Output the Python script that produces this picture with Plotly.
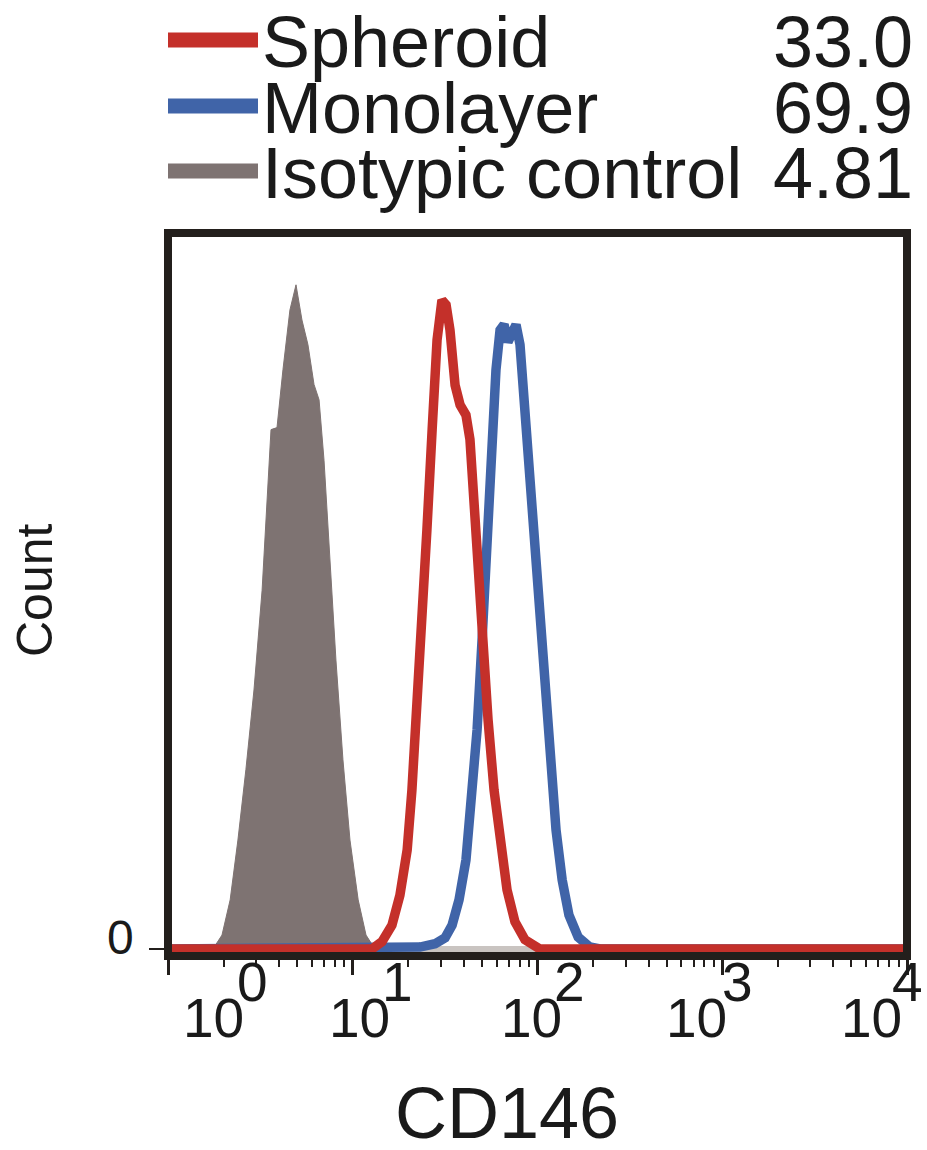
import plotly.graph_objects as go

# ---------------- data ----------------
# fluorescence intensity (CD146, linear units) and cell counts (normalised, isotype peak = 100)
iso_x = [1.75, 1.96, 2.17, 2.39, 2.64, 2.92, 3.23, 3.48, 3.61, 3.89, 4.19, 4.57, 4.93,
         5.31, 5.72, 6.17, 6.57, 6.99, 7.53, 8.11, 8.85, 9.66, 10.7, 11.8, 13.2]
iso_y = [0, 2.1, 7.4, 16.4, 27, 39, 54, 70.6, 78.2, 78.5, 87.2, 96.2, 100,
         94.7, 91, 85, 82.7, 73.6, 58.6, 43.5, 28.5, 16.4, 7.4, 2.1, 0]
iso_base_x = [1, 10000]
iso_base_y = [0, 0]

sph_x = [1, 12.7, 14.4, 16.3, 18.0, 19.7, 20.9, 22.3, 23.7, 25.2, 26.9, 28.6, 30.4, 32.0,
         33.6, 35.8, 38.1, 41.0, 43.1, 45.3, 47.6, 50.7, 54.0, 58.2, 62.7, 68.4, 75.5,
         85.5, 103, 10000]
sph_y = [0, 0, 1.1, 3.6, 8.1, 14.9, 23.9, 36, 49.5, 63.1, 78.2, 91.7, 97.7, 97,
         93.2, 84.9, 81.9, 80.4, 76.7, 66.1, 55.6, 45, 34.5, 23.9, 15.7, 8.9, 4.1,
         1.4, 0, 0]

mono_x = [1, 14.1, 23.1, 27.9, 31.6, 34.5, 37.6, 41.0, 44.2, 47.1, 50.1, 53.3, 56.7, 59.6,
          62.7, 65.9, 69.2, 72.8, 76.5, 80.4, 84.5, 89.9, 95.7, 101, 106, 111, 118, 126,
          136, 148, 166, 192, 218, 10000]
mono_y = [0, 0, 0.3, 0.8, 1.7, 3.6, 7.4, 13.4, 22.4, 33, 46.5, 61.6, 76.7, 87.2,
          93.2, 94, 91.4, 93.2, 94, 91, 82.7, 72.1, 63.1, 55.6, 46.5, 37.5, 27, 17.9,
          10.4, 5.1, 1.8, 0.3, 0, 0]

legend_names = ["Spheroid", "Monolayer", "Isotypic control"]
legend_values = ["33.0", "69.9", "4.81"]
decade_powers = ["0", "1", "2", "3", "4"]

# ---------------- styling ----------------
RED = "#c4302a"
BLUE = "#4064a8"
GRAY = "#7e7372"
LIGHTGRAY = "#c9c4c1"
INK = "#231f1c"
TXT = "#1a1a1a"
FONT = "Liberation Sans, Arial, sans-serif"

W, H = 927, 1150
L, R, T, B = 168, 907, 233, 956   # plot area in pixels


def px(x):
    return (x - L) / (R - L)


def py(y):
    return (B - y) / (B - T)


fig = go.Figure()
fig.add_trace(go.Scatter(x=iso_base_x, y=iso_base_y, mode="lines",
                         line=dict(color=LIGHTGRAY, width=6), showlegend=False))
fig.add_trace(go.Scatter(x=iso_x, y=iso_y, mode="lines", fill="tozeroy",
                         fillcolor=GRAY, line=dict(color=GRAY, width=1),
                         name=legend_names[2], showlegend=False))
fig.add_trace(go.Scatter(x=mono_x, y=mono_y, mode="lines",
                         line=dict(color=BLUE, width=9.5), name=legend_names[1],
                         showlegend=False))
fig.add_trace(go.Scatter(x=sph_x, y=sph_y, mode="lines",
                         line=dict(color=RED, width=9.5), name=legend_names[0],
                         showlegend=False))

shapes = [dict(type="rect", xref="paper", yref="paper", x0=0, x1=1, y0=0, y1=1,
               line=dict(color=INK, width=8), layer="above")]
annotations = []

# legend
leg_colors = [RED, BLUE, GRAY]
leg_y = [40, 106, 171]
for name, val, col, yc in zip(legend_names, legend_values, leg_colors, leg_y):
    shapes.append(dict(type="line", xref="paper", yref="paper",
                       x0=px(168), x1=px(258), y0=py(yc), y1=py(yc),
                       line=dict(color=col, width=15)))
    annotations.append(dict(text=name, xref="paper", yref="paper", x=px(260), y=py(yc + 2),
                            xanchor="left", yanchor="middle", showarrow=False,
                            font=dict(size=72, color=TXT, family=FONT)))
    annotations.append(dict(text=val, xref="paper", yref="paper", x=px(915), y=py(yc + 2),
                            xanchor="right", yanchor="middle", showarrow=False,
                            font=dict(size=72, color=TXT, family=FONT)))

# x tick labels 10^n (base and raised exponent at the same size)
base_cx = [213, 359, 531, 696, 871]
exp_cx = [252, 397, 569, 737, 907]
for p, bx, ex in zip(decade_powers, base_cx, exp_cx):
    annotations.append(dict(text="10", xref="paper", yref="paper", x=px(bx), y=py(1018),
                            xanchor="center", yanchor="middle", showarrow=False,
                            font=dict(size=55, color=TXT, family=FONT)))
    annotations.append(dict(text=p, xref="paper", yref="paper", x=px(ex), y=py(982),
                            xanchor="center", yanchor="middle", showarrow=False,
                            font=dict(size=55, color=TXT, family=FONT)))

# y tick label
annotations.append(dict(text="0", xref="paper", yref="paper", x=px(120), y=py(937),
                        xanchor="center", yanchor="middle", showarrow=False,
                        font=dict(size=48, color=TXT, family=FONT)))
# axis titles
annotations.append(dict(text="Count", xref="paper", yref="paper", x=px(35), y=py(590),
                        xanchor="center", yanchor="middle", showarrow=False, textangle=-90,
                        font=dict(size=50, color=TXT, family=FONT)))
annotations.append(dict(text="CD146", xref="paper", yref="paper", x=px(507), y=py(1113),
                        xanchor="center", yanchor="middle", showarrow=False,
                        font=dict(size=72, color=TXT, family=FONT)))

fig.update_layout(
    width=W, height=H,
    margin=dict(l=L, r=W - R, t=T, b=H - B, pad=0),
    paper_bgcolor="white", plot_bgcolor="white",
    showlegend=False,
    shapes=shapes, annotations=annotations,
    xaxis=dict(type="log", range=[0, 4], showgrid=False, zeroline=False, showline=False,
               dtick=1, ticks="outside", ticklen=18, tickwidth=2.5, tickcolor=INK,
               showticklabels=False,
               minor=dict(ticks="outside", ticklen=10, tickwidth=2, tickcolor=INK,
                          dtick="D1", showgrid=False)),
    yaxis=dict(range=[-1.05, 107.8], showgrid=False, zeroline=False, showline=False,
               tickvals=[0], ticks="outside", ticklen=18, tickwidth=2, tickcolor=INK,
               showticklabels=False),
)

fig.write_html("out.html")
